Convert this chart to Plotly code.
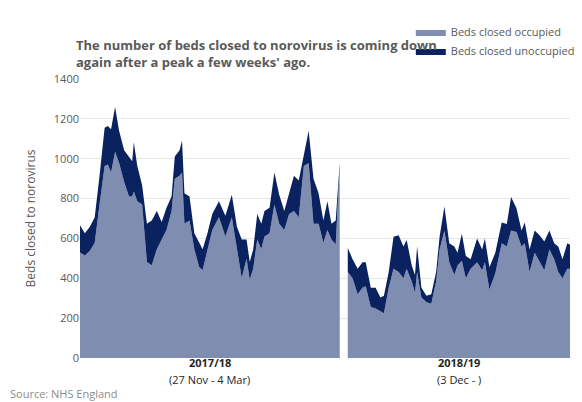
import plotly.graph_objects as go

# 2017/18 season (27 Nov - 4 Mar), day offset from start
days_1718 = [0, 1.8, 3.7, 5.5, 7.3, 9.2, 10.4, 11.6, 13.1, 14.6, 16.5, 18.3, 19.5, 20.1,
             21.4, 23.2, 25, 26.8, 28.7, 30.5, 32.3, 34.2, 35.4, 37.2, 38.1, 39, 40.9,
             42.7, 44.5, 45.8, 47.6, 49.4, 51.9, 54.3, 56.7, 58.6, 60.4, 62.2, 63.4,
             64.7, 66.2, 67.7, 68.9, 70.8, 72.6, 74.4, 76.3, 78.1, 79.9, 81.7, 83.6,
             85.4, 87.2, 89.1, 90.9, 92.4, 93.9, 95.5, 97]
total_1718 = [666, 626, 658, 706, 915, 1156, 1164, 1148, 1260, 1140, 1043, 1011, 987, 1083,
              963, 867, 674, 690, 738, 682, 754, 811, 1011, 1043, 1091, 827, 811,
              626, 578, 546, 626, 722, 787, 714, 819, 658, 594, 594, 482,
              546, 722, 674, 738, 754, 931, 819, 738, 827, 915, 891, 1027,
              1140, 899, 827, 690, 787, 674, 690, 979]
occupied_1718 = [530, 514, 538, 578, 770, 963, 971, 931, 1035, 979, 883, 811, 811, 835,
                 787, 770, 482, 465, 546, 594, 642, 738, 899, 915, 931, 674, 690,
                 546, 457, 441, 546, 642, 706, 610, 706, 546, 401, 498, 393,
                 449, 594, 546, 610, 626, 770, 674, 642, 722, 738, 706, 963,
                 979, 674, 674, 578, 642, 594, 570, 963]

# 2018/19 season (3 Dec - ), day offset from start
days_1819 = [0, 1.8, 3.7, 5.5, 6.7, 8.6, 10.4, 12.2, 13.5, 15.3, 17.1, 19, 20.8, 22,
             23.9, 25.1, 25.9, 27.5, 29.4, 31.2, 33, 34.3, 36.1, 37.9, 39.8, 41,
             42.6, 44.1, 45.9, 48.3, 50.2, 51.2, 52.9, 55.1, 57.5, 59.4, 61, 63,
             64.9, 66.1, 67.9, 69.8, 71.6, 73.4, 75.3, 77.1, 78.6, 80.2, 82, 83]
total_1819 = [552, 496, 448, 480, 480, 352, 352, 304, 312, 432, 608, 616, 560, 592,
              464, 416, 560, 352, 312, 320, 432, 608, 760, 576, 560, 528,
              624, 512, 496, 600, 544, 600, 456, 528, 680, 672, 808, 752,
              640, 680, 544, 640, 616, 584, 640, 576, 560, 496, 576, 568]
occupied_1819 = [432, 400, 320, 352, 360, 256, 248, 232, 224, 352, 448, 432, 400, 448,
                 384, 328, 432, 304, 280, 272, 384, 544, 640, 480, 416, 464,
                 488, 400, 448, 480, 440, 480, 344, 424, 576, 560, 640, 632,
                 560, 576, 432, 528, 480, 440, 544, 496, 432, 400, 448, 448]

season_labels = ["2017/18", "2018/19"]
season_ranges = ["(27 Nov - 4 Mar)", "(3 Dec - )"]
y_ticks = [0, 200, 400, 600, 800, 1000, 1200, 1400]

OCC = "#7f8db0"
UNOCC = "#0a2260"
GREY = "#595959"
GAP = 100  # where the second season starts on the shared axis

fig = go.Figure()
seasons = [(days_1718, occupied_1718, total_1718, 0),
           (days_1819, occupied_1819, total_1819, GAP)]
for i, (d, occ, tot, off) in enumerate(seasons):
    x = [v + off for v in d]
    fig.add_scatter(x=x, y=occ, mode="lines", line=dict(width=0, color=OCC),
                    fill="tozeroy", fillcolor=OCC, name="Beds closed occupied",
                    showlegend=(i == 0), legendrank=2, hoverinfo="skip")
    fig.add_scatter(x=x, y=tot, mode="lines", line=dict(width=0, color=UNOCC),
                    fill="tonexty", fillcolor=UNOCC, name="Beds closed unoccupied",
                    showlegend=(i == 0), legendrank=1, hoverinfo="skip")

centres = [(days_1718[0] + days_1718[-1]) / 2,
           GAP + (days_1819[0] + days_1819[-1]) / 2]
for cx, lab, rng in zip(centres, season_labels, season_ranges):
    fig.add_annotation(x=cx, y=0, xref="x", yref="paper", yshift=-14, text=f"<b>{lab}</b>",
                       showarrow=False, font=dict(size=11, color="#262626"))
    fig.add_annotation(x=cx, y=0, xref="x", yref="paper", yshift=-31, text=rng,
                       showarrow=False, font=dict(size=11, color="#262626"))

fig.add_annotation(x=0, y=0, xref="paper", yref="paper", xshift=-72, yshift=-45,
                   xanchor="left", yanchor="bottom", text="Source: NHS England",
                   showarrow=False, font=dict(size=11, color="#8c8c8c"))
fig.add_annotation(x=0, y=1, xref="paper", yref="paper", xshift=-6, yshift=6,
                   xanchor="left", yanchor="bottom", align="left",
                   text="<b>The number of beds closed to norovirus is coming down<br>"
                        "again after a peak a few weeks' ago.</b>",
                   showarrow=False, font=dict(size=13, color=GREY))

fig.update_layout(
    width=582, height=402,
    margin=dict(l=72, r=10, t=58, b=52),
    paper_bgcolor="white", plot_bgcolor="white",
    font=dict(family="Open Sans, Calibri, sans-serif", color=GREY, size=11),
    legend=dict(x=1.02, y=1.22, xanchor="right", yanchor="top", font=dict(size=11),
                tracegroupgap=2, bgcolor="rgba(0,0,0,0)", itemwidth=30),
)
fig.update_xaxes(range=[0, GAP + days_1819[-1]], showticklabels=False, showgrid=False,
                 zeroline=False, ticks="")
fig.update_yaxes(range=[0, 1400], tickvals=y_ticks, gridcolor="#e6e6e6", zeroline=False,
                 title=dict(text="Beds closed to norovirus", font=dict(size=12)),
                 tickfont=dict(size=11))
fig.write_html("out.html")
